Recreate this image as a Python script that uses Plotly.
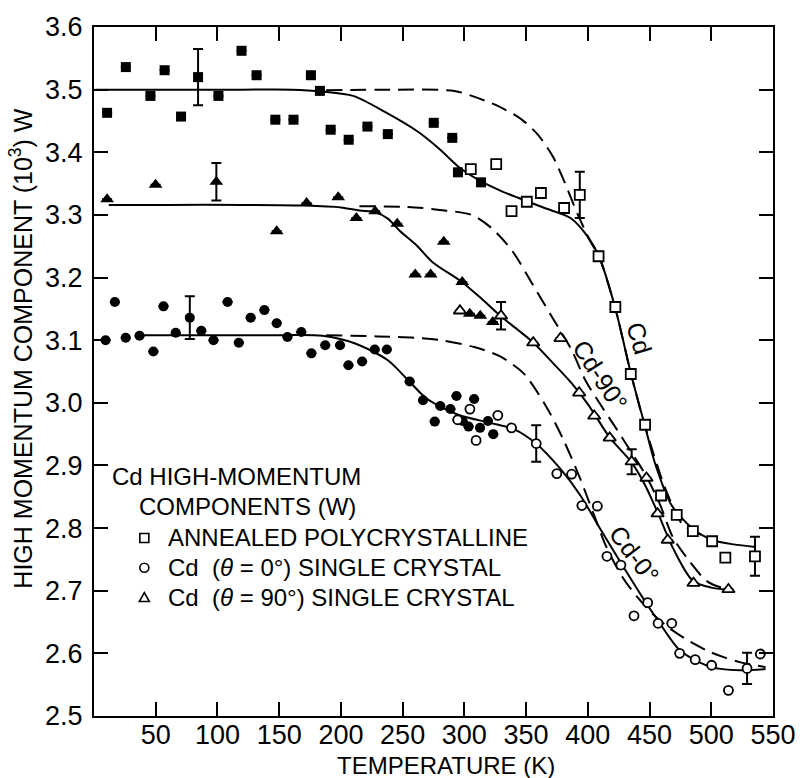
import plotly.graph_objects as go

# ---------------- data ----------------
# filled squares
sqf_T = [10.6, 25.8, 45.7, 57.2, 70.5, 84.3, 100.8, 119.5, 131.7, 146.9, 161.6, 175.7, 183.0, 191.7, 206.3, 221.5, 238.0, 275.2, 290.2, 294.8, 313.5]
sqf_W = [3.463, 3.536, 3.490, 3.531, 3.457, 3.520, 3.490, 3.562, 3.523, 3.452, 3.452, 3.523, 3.498, 3.436, 3.420, 3.441, 3.429, 3.447, 3.423, 3.368, 3.352]
sqf_E = [None, None, None, None, None, 0.045, None, None, None, None, None, None, None, None, None, None, None, None, None, None, None]

# open squares (annealed polycrystalline)
sqo_T = [305.2, 325.8, 338.2, 350.6, 362.0, 380.8, 393.5, 408.7, 422.3, 434.8, 446.4, 459.3, 472.0, 485.1, 500.7, 511.4, 535.4]
sqo_W = [3.373, 3.381, 3.306, 3.321, 3.335, 3.311, 3.332, 3.234, 3.153, 3.046, 2.965, 2.852, 2.821, 2.795, 2.779, 2.753, 2.755]
sqo_E = [None, None, None, None, None, None, 0.037, None, None, None, None, None, None, None, None, None, 0.031]

# filled triangles
trf_T = [10.6, 49.9, 99.1, 148.0, 172.2, 197.8, 212.5, 227.7, 245.6, 260.2, 272.7, 283.3, 298.3, 304.4, 312.9, 323.0]
trf_W = [3.325, 3.348, 3.353, 3.274, 3.319, 3.328, 3.295, 3.306, 3.286, 3.205, 3.205, 3.257, 3.193, 3.142, 3.139, 3.129]
trf_E = [None, None, 0.03, None, None, None, None, None, None, None, None, None, None, None, None, None]

# open triangles (theta = 90 deg)
tro_T = [296.4, 329.7, 355.8, 377.9, 393.0, 405.2, 417.7, 435.5, 447.5, 456.5, 464.7, 485.6, 513.9]
tro_W = [3.147, 3.139, 3.096, 3.103, 3.016, 2.979, 2.944, 2.906, 2.880, 2.823, 2.781, 2.712, 2.702]
tro_E = [None, 0.022, None, None, None, None, None, 0.02, None, None, None, None, None]

# filled circles
cif_T = [9.4, 16.9, 25.7, 36.9, 48.1, 56.3, 66.2, 77.6, 86.9, 96.8, 108.2, 117.3, 126.9, 138.0, 148.0, 156.7, 167.9, 176.1, 187.3, 199.3, 206.1, 217.2, 227.4, 237.2, 255.7, 266.5, 276.0, 280.5, 288.7, 293.6, 307.9, 298.6, 303.4, 312.7, 319.1, 323.4]
cif_W = [3.100, 3.161, 3.104, 3.107, 3.082, 3.154, 3.112, 3.136, 3.115, 3.100, 3.161, 3.096, 3.136, 3.148, 3.127, 3.105, 3.113, 3.079, 3.092, 3.092, 3.060, 3.066, 3.085, 3.085, 3.034, 3.004, 2.970, 2.995, 2.990, 3.011, 3.006, 2.971, 2.962, 2.960, 2.971, 2.950]
cif_E = [None] * 7 + [0.034] + [None] * 28

# open circles (theta = 0 deg)
cio_T = [294.6, 304.5, 309.5, 327.1, 338.2, 358.2, 374.9, 386.9, 395.2, 407.7, 415.5, 426.8, 437.4, 448.5, 456.9, 468.0, 474.4, 487.0, 500.3, 513.9, 529.0, 539.7]
cio_W = [2.973, 2.990, 2.940, 2.980, 2.960, 2.935, 2.887, 2.886, 2.836, 2.835, 2.755, 2.741, 2.660, 2.681, 2.648, 2.648, 2.600, 2.590, 2.581, 2.541, 2.576, 2.599]
cio_E = [None] * 5 + [0.029] + [None] * 14 + [0.025, None]

# fitted curves
cd_T = [1, 60, 120, 160, 185, 210, 236, 263, 280, 297, 314, 330, 344, 365, 386, 400, 409, 422, 435, 446, 455, 468, 485, 501, 518, 536]
cd_W = [3.500, 3.500, 3.500, 3.500, 3.497, 3.490, 3.464, 3.432, 3.405, 3.374, 3.353, 3.338, 3.327, 3.311, 3.295, 3.265, 3.234, 3.153, 3.046, 2.965, 2.900, 2.836, 2.799, 2.781, 2.774, 2.770]
cdd_T = [188, 240, 292, 306, 327, 346, 360, 372, 381, 392, 402, 409, 422, 435, 446, 463, 477, 487, 501]
cdd_W = [3.499, 3.500, 3.498, 3.490, 3.474, 3.453, 3.427, 3.392, 3.353, 3.300, 3.258, 3.234, 3.153, 3.046, 2.965, 2.862, 2.805, 2.794, 2.781]

c90_T = [12, 60, 120, 170, 200, 215, 228, 238, 248, 262, 274, 298, 314, 329, 343, 356, 372, 387, 400, 418, 435, 446, 457, 469, 485, 500, 512]
c90_W = [3.316, 3.316, 3.316, 3.315, 3.312, 3.307, 3.304, 3.294, 3.274, 3.250, 3.225, 3.193, 3.166, 3.139, 3.117, 3.096, 3.063, 3.031, 2.998, 2.944, 2.906, 2.870, 2.823, 2.768, 2.716, 2.705, 2.702]
c90d_T = [215, 260, 280, 306, 322, 339, 355, 371, 387, 398, 410, 422, 435, 447, 458, 469, 482, 496, 508, 517]
c90d_W = [3.314, 3.312, 3.308, 3.300, 3.279, 3.242, 3.190, 3.137, 3.084, 3.036, 2.998, 2.962, 2.922, 2.884, 2.840, 2.785, 2.748, 2.716, 2.705, 2.702]

c0_T = [40, 100, 150, 185, 211, 238, 254, 270, 295, 321, 340, 358, 378, 394, 410, 426, 448, 456, 475, 500, 523, 544]
c0_W = [3.108, 3.108, 3.108, 3.107, 3.095, 3.068, 3.037, 3.006, 2.981, 2.968, 2.958, 2.935, 2.894, 2.852, 2.799, 2.747, 2.678, 2.655, 2.604, 2.578, 2.573, 2.575]
c0d_T = [188, 230, 260, 281, 308, 329, 348, 366, 380, 394, 405, 415, 428, 440, 452, 465, 480, 497, 510, 523, 544]
c0d_W = [3.108, 3.106, 3.104, 3.100, 3.089, 3.074, 3.047, 2.995, 2.942, 2.878, 2.821, 2.770, 2.722, 2.690, 2.664, 2.642, 2.622, 2.604, 2.594, 2.586, 2.578]

# curve labels
lab_text = ["Cd", "Cd-90°", "Cd-0°"]
lab_T = [441.5, 409.8, 437.3]
lab_W = [3.103, 3.044, 2.758]
lab_angle = [73, 57, 53]

# axis ticks
x_ticks = [50, 100, 150, 200, 250, 300, 350, 400, 450, 500, 550]
x_labels = ["50", "100", "150", "200", "250", "300", "350", "400", "450", "500", "550"]
y_ticks = [2.5, 2.6, 2.7, 2.8, 2.9, 3.0, 3.1, 3.2, 3.3, 3.4, 3.5, 3.6]
y_labels = ["2.5", "2.6", "2.7", "2.8", "2.9", "3.0", "3.1", "3.2", "3.3", "3.4", "3.5", "3.6"]

legend_title = ["Cd HIGH-MOMENTUM", "COMPONENTS (W)"]
legend_labels = ["ANNEALED POLYCRYSTALLINE",
                 "Cd  (<i>θ</i> = 0°) SINGLE CRYSTAL",
                 "Cd  (<i>θ</i> = 90°) SINGLE CRYSTAL"]

# ---------------- figure ----------------
FONT = "Liberation Sans, Arial, Helvetica, sans-serif"
W_PX, H_PX = 808, 778
ML, MR, MT, MB = 94, 26, 22, 62
PW = W_PX - ML - MR
PH = H_PX - MT - MB


def px_x(px):
    return (px - ML) / PW


def px_y(py):
    return (H_PX - MB - py) / PH


fig = go.Figure()

DASH = "16px,8px"
for T, Wv, dash in [(cd_T, cd_W, "solid"), (cdd_T, cdd_W, DASH),
                    (c90_T, c90_W, "solid"), (c90d_T, c90d_W, DASH),
                    (c0_T, c0_W, "solid"), (c0d_T, c0d_W, DASH)]:
    fig.add_trace(go.Scatter(x=T, y=Wv, mode="lines",
                             line=dict(color="black", width=2, dash=dash,
                                       shape="spline", smoothing=0.8),
                             showlegend=False, hoverinfo="skip"))


def err(arr):
    return dict(type="data", array=arr, visible=True, color="black",
                thickness=2, width=5)


def add_markers(T, Wv, E, symbol, size, filled):
    fig.add_trace(go.Scatter(
        x=T, y=Wv, mode="markers", error_y=err(E), showlegend=False,
        marker=dict(symbol=symbol, size=size,
                    color="black" if filled else "white",
                    line=dict(color="black", width=0 if filled else 1.8))))


add_markers(sqf_T, sqf_W, sqf_E, "square", 10, True)
add_markers(trf_T, trf_W, trf_E, "triangle-up", 12, True)
add_markers(cif_T, cif_W, cif_E, "circle", 10, True)
add_markers(sqo_T, sqo_W, sqo_E, "square", 10, False)
add_markers(tro_T, tro_W, tro_E, "triangle-up", 11, False)
add_markers(cio_T, cio_W, cio_E, "circle", 9, False)

annotations = []
for t, x, y, a in zip(lab_text, lab_T, lab_W, lab_angle):
    annotations.append(dict(x=x, y=y, xref="x", yref="y", text=t, textangle=a,
                            showarrow=False, font=dict(family=FONT, size=25, color="black")))

# axis titles
annotations.append(dict(x=px_x(451), y=px_y(766), xref="paper", yref="paper",
                        text="TEMPERATURE (K)", showarrow=False,
                        xanchor="center", yanchor="middle",
                        font=dict(family=FONT, size=24, color="black")))
annotations.append(dict(x=px_x(20), y=px_y(345), xref="paper", yref="paper",
                        text="HIGH MOMENTUM COMPONENT (10<sup>3</sup>) W", textangle=-90,
                        showarrow=False, xanchor="center", yanchor="middle",
                        font=dict(family=FONT, size=25, color="black")))

# legend block
legend_rows_y = [474.7, 505.0, 536.7, 566.7, 596.7]
legend_rows_x = [110.5, 138.0, 167.0, 167.0, 167.0]
for txt, lx, ly in zip(legend_title + legend_labels, legend_rows_x, legend_rows_y):
    annotations.append(dict(x=px_x(lx), y=px_y(ly), xref="paper", yref="paper",
                            text=txt, showarrow=False, xanchor="left", yanchor="middle",
                            font=dict(family=FONT, size=24, color="black")))

sym_x = px_x(145)
shapes = [
    dict(type="rect", xref="paper", yref="paper", xsizemode="pixel", ysizemode="pixel",
         xanchor=sym_x, yanchor=px_y(536.7), x0=-4.5, x1=4.5, y0=-4.5, y1=4.5,
         line=dict(color="black", width=1.6), fillcolor="white"),
    dict(type="circle", xref="paper", yref="paper", xsizemode="pixel", ysizemode="pixel",
         xanchor=sym_x, yanchor=px_y(566.7), x0=-4.5, x1=4.5, y0=-4.5, y1=4.5,
         line=dict(color="black", width=1.6), fillcolor="white"),
    dict(type="path", xref="paper", yref="paper", xsizemode="pixel", ysizemode="pixel",
         xanchor=sym_x, yanchor=px_y(596.7), path="M -5,-4 L 5,-4 L 0,5 Z",
         line=dict(color="black", width=1.6), fillcolor="white"),
]

axis_common = dict(showgrid=False, zeroline=False, showline=True, linecolor="black",
                   linewidth=2, mirror="ticks", ticks="inside", ticklen=14,
                   tickwidth=2, tickcolor="black",
                   tickfont=dict(family=FONT, size=27, color="black"))

fig.update_layout(
    width=W_PX, height=H_PX,
    margin=dict(l=ML, r=MR, t=MT, b=MB, pad=0),
    paper_bgcolor="white", plot_bgcolor="white",
    showlegend=False, hovermode=False,
    xaxis=dict(range=[0, 550], tickmode="array", tickvals=x_ticks, ticktext=x_labels,
               ticklabelstandoff=-6, **axis_common),
    yaxis=dict(range=[2.5, 3.6], tickmode="array", tickvals=y_ticks, ticktext=y_labels,
               ticklabelstandoff=4, **axis_common),
    annotations=annotations,
    shapes=shapes,
)

fig.write_html("out.html", config={"displayModeBar": False},
               post_script="document.body.style.margin='0';document.body.style.padding='0';")
